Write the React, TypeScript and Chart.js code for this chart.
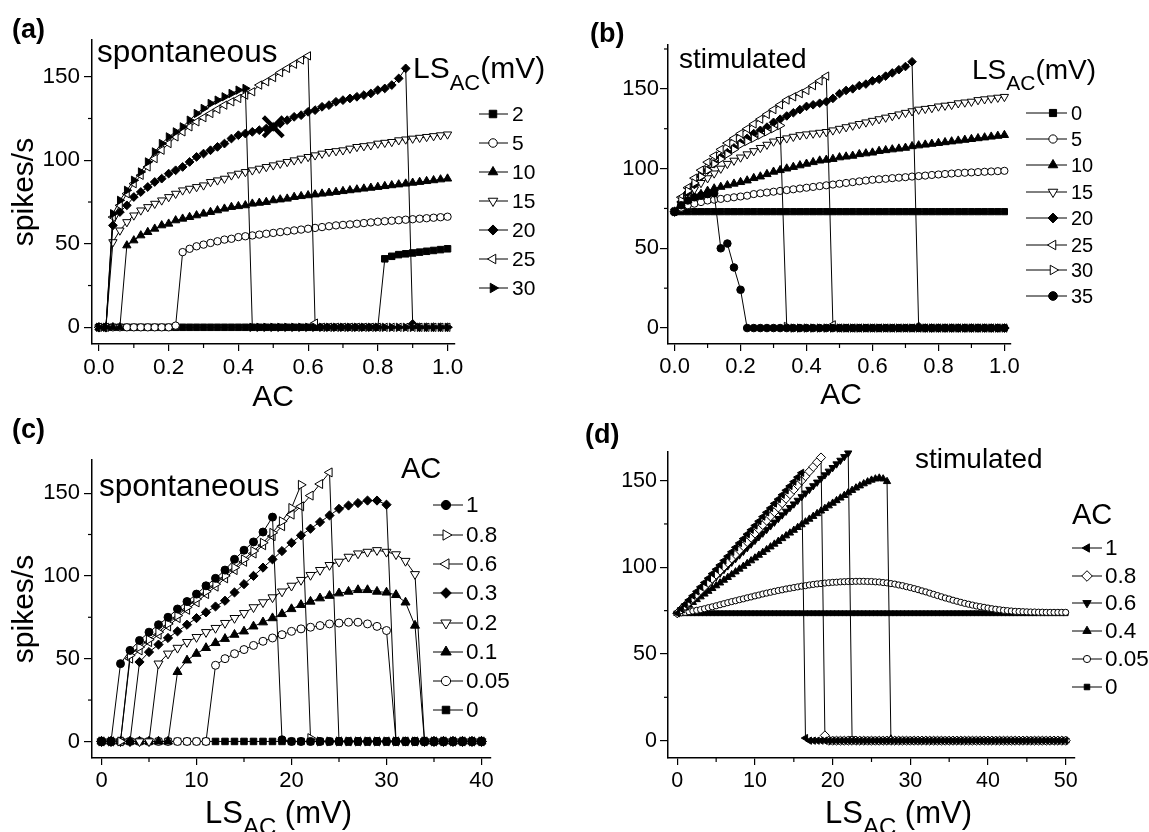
import React, { useEffect, useRef } from 'react';
import { Chart, registerables } from 'chart.js';
Chart.register(...registerables);

const FONT = "'Liberation Sans', Arial, Helvetica, sans-serif";

// ---------------- Panel (a): spontaneous, x = AC ----------------
const acValues = [
  0, 0.02, 0.04, 0.06, 0.08, 0.1, 0.12, 0.14, 0.16, 0.18,
  0.2, 0.22, 0.24, 0.26, 0.28, 0.3, 0.32, 0.34, 0.36, 0.38,
  0.4, 0.42, 0.44, 0.46, 0.48, 0.5, 0.52, 0.54, 0.56, 0.58,
  0.6, 0.62, 0.64, 0.66, 0.68, 0.7, 0.72, 0.74, 0.76, 0.78,
  0.8, 0.82, 0.84, 0.86, 0.88, 0.9, 0.92, 0.94, 0.96, 0.98,
  1.0,
];
const acTicks = [0, 0.2, 0.4, 0.6, 0.8, 1.0];
const acMinorTicks = [0.1, 0.3, 0.5, 0.7, 0.9];
const rateTicks = [0, 50, 100, 150];
const rateMinorTicksA = [25, 75, 125];
const rateMinorTicksB = [25, 75, 125, 175];

const aLS2 = [
  0, 0, 0, 0, 0, 0, 0, 0, 0, 0,
  0, 0, 0, 0, 0, 0, 0, 0, 0, 0,
  0, 0, 0, 0, 0, 0, 0, 0, 0, 0,
  0, 0, 0, 0, 0, 0, 0, 0, 0, 0,
  0, 41, 42.5, 43.5, 44, 44.5, 45, 45.5, 46, 46.5,
  47,
];
const aLS5 = [
  0, 0, 0, 0, 0, 0, 0, 0, 0, 0,
  0, 1, 45, 47, 48.5, 49.5, 50.5, 51.5, 52.5, 53,
  54, 54.5, 55, 55.5, 56, 56.5, 57, 57.5, 58, 58.5,
  59, 59.5, 60, 60.5, 61, 61.3, 61.6, 62, 62.4, 62.8,
  63.2, 63.5, 63.8, 64.1, 64.4, 64.7, 65, 65.3, 65.6, 65.9,
  66.2,
];
const aLS10 = [
  0, 0, 0, 0, 49, 52, 55, 57, 59, 61,
  62, 64, 65, 66, 67, 68, 69, 70, 71, 72,
  72.5, 73, 74, 74.5, 75, 76, 76.5, 77, 78, 78.5,
  79, 79.5, 80, 80.5, 81, 81.5, 82, 82.5, 83, 83.5,
  84, 84.5, 85, 85.5, 86, 86.5, 87, 87.5, 88, 88.5,
  89,
];
const aLS15 = [
  0, 0, 51, 58, 63, 67, 70, 72, 74, 76,
  78, 80, 82, 83, 84, 85, 87, 88, 89, 91,
  92, 93, 94, 95, 96, 97, 98, 99, 100, 101,
  102, 103, 104, 105, 105.5, 106, 107, 108, 108.5, 109,
  110, 110.5, 111, 112, 112.5, 113, 113.5, 114, 114.5, 115,
  115.5,
];
const aLS20 = [
  0, 0, 61, 69, 73, 78, 81, 84, 87, 89,
  92, 94, 96, 99, 102, 104, 106, 108, 110, 113,
  115, 116, 117, 118, 119, 120, 122, 124, 126, 127,
  129, 130, 132, 133, 135, 136, 137, 138, 139, 140,
  142, 143, 145, 149, 155, 2, 0, 0, 0, 0,
  0,
];
const aLS25 = [
  0, 0, 66, 73, 80, 86, 91, 96, 101, 106,
  110, 114, 117, 120, 123, 125.5, 128, 130.5, 133, 135,
  137, 139, 141, 145, 147, 149.5, 152.5, 155, 157.5, 160,
  162.5, 2.5, 0, 0, 0, 0, 0, 0, 0, 0,
  0, 0, 0, 0, 0, 0, 0, 0, 0, 0,
  0,
];
const aLS30 = [
  0, 0, 68, 76, 82, 88, 93, 99, 105, 110,
  114, 117, 120, 124, 128, 131, 134, 136, 138, 140,
  142, 143, 0, 0, 0, 0, 0, 0, 0, 0,
  0, 0, 0, 0, 0, 0, 0, 0, 0, 0,
  0, 0, 0, 0, 0, 0, 0, 0, 0, 0,
  0,
];
const aCrossX = [0.5];
const aCrossY = [120];

// ---------------- Panel (b): stimulated, x = AC ----------------
const bLS0 = [
  73, 73, 73, 73, 73, 73, 73, 73, 73, 73,
  73, 73, 73, 73, 73, 73, 73, 73, 73, 73,
  73, 73, 73, 73, 73, 73, 73, 73, 73, 73,
  73, 73, 73, 73, 73, 73, 73, 73, 73, 73,
  73, 73, 73, 73, 73, 73, 73, 73, 73, 73,
  73,
];
const bLS5 = [
  73, 75.5, 77, 78, 79, 80, 80.5, 81, 81.5, 82,
  82.5, 83, 84, 84.5, 85, 85.5, 86, 86.5, 87, 87.5,
  88, 88.5, 89, 89.5, 90, 90.5, 91, 91.5, 92, 92.5,
  93, 93.3, 93.6, 94, 94.3, 94.6, 95, 95.3, 95.6, 96,
  96.3, 96.6, 96.9, 97.2, 97.4, 97.6, 97.8, 98, 98.2, 98.4,
  98.6,
];
const bLS10 = [
  73, 77, 80, 82, 84, 86, 87.5, 88.5, 89.5, 90.5,
  91.5, 92.5, 94, 95, 96.5, 98, 99, 100, 101, 102,
  103, 104, 105, 105.5, 106, 107, 107.5, 108, 109, 109.5,
  110, 111, 111.5, 112, 112.5, 113, 114, 114.5, 115, 115.5,
  116, 116.5, 117, 117.5, 118, 118.5, 119, 119.5, 120, 120.5,
  121,
];
const bLS15 = [
  73, 78, 83, 87, 91, 94, 97, 100, 103, 105,
  107, 109, 111, 113, 115, 117, 118, 119, 120, 121,
  121.5, 122, 122.5, 123, 124, 125, 126, 127, 128, 129,
  130, 131, 132, 133, 134, 135, 136, 137, 137.5, 138,
  139, 139.5, 140, 141, 141.5, 142, 143, 143.5, 144, 144.5,
  145,
];
const bLS20 = [
  73, 79, 85, 90, 95, 99, 103, 107, 110, 113,
  116, 119, 122, 124, 126, 129, 131, 133, 135, 137,
  139, 140, 141, 142, 144, 147, 149, 150, 152, 153,
  155, 156, 158, 160, 162, 164, 167, 1, 0, 0,
  0, 0, 0, 0, 0, 0, 0, 0, 0, 0,
  0,
];
const bLS25 = [
  73, 82, 88, 94, 99, 104, 108, 112, 116, 119,
  122, 125, 128, 131, 134, 137, 140, 143, 145, 147,
  149, 152, 155, 158, 2, 0, 0, 0, 0, 0,
  0, 0, 0, 0, 0, 0, 0, 0, 0, 0,
  0, 0, 0, 0, 0, 0, 0, 0, 0, 0,
  0,
];
const bLS30 = [
  73, 80, 86, 91, 95, 99, 103, 106, 109, 112,
  115, 117, 119, 121, 123, 125, 127, 1, 0, 0,
  0, 0, 0, 0, 0, 0, 0, 0, 0, 0,
  0, 0, 0, 0, 0, 0, 0, 0, 0, 0,
  0, 0, 0, 0, 0, 0, 0, 0, 0, 0,
  0,
];
const bLS35 = [
  73, 77, 80, 82, 83, 84, 84.5, 50, 53, 38,
  24, 0, 0, 0, 0, 0, 0, 0, 0, 0,
  0, 0, 0, 0, 0, 0, 0, 0, 0, 0,
  0, 0, 0, 0, 0, 0, 0, 0, 0, 0,
  0, 0, 0, 0, 0, 0, 0, 0, 0, 0,
  0,
];

// ---------------- Panel (c): spontaneous, x = LS_AC ----------------
const lsC = [
  0, 1, 2, 3, 4, 5, 6, 7, 8, 9,
  10, 11, 12, 13, 14, 15, 16, 17, 18, 19,
  20, 21, 22, 23, 24, 25, 26, 27, 28, 29,
  30, 31, 32, 33, 34, 35, 36, 37, 38, 39,
  40,
];
const lsTicksC = [0, 10, 20, 30, 40];
const lsMinorC = [5, 15, 25, 35];
const cAC1 = [
  0, 0, 47, 55, 61, 66, 70.5, 75, 80, 84.5,
  89, 94, 98.5, 103.5, 110, 115.5, 120.5, 126.5, 135.5, 1,
  0, 0, 0, 0, 0, 0, 0, 0, 0, 0,
  0, 0, 0, 0, 0, 0, 0, 0, 0, 0,
  0,
];
const cAC08 = [
  0, 0, 0, 52, 57, 61.5, 66, 71, 76, 81,
  86, 90.5, 95, 100, 105, 110, 115, 120, 126, 133,
  141, 155, 2, 0, 0, 0, 0, 0, 0, 0,
  0, 0, 0, 0, 0, 0, 0, 0, 0, 0,
  0,
];
const cAC06 = [
  0, 0, 0, 50, 55, 60, 64.5, 69.5, 74.5, 79.5,
  84, 89, 93.5, 98.5, 103.5, 108.5, 113.5, 118.5, 124, 130,
  137, 142, 148.5, 155.5, 162.5, 0, 0, 0, 0, 0,
  0, 0, 0, 0, 0, 0, 0, 0, 0, 0,
  0,
];
const cAC03 = [
  0, 0, 0, 0, 48, 54, 58.5, 62.5, 66.5, 70.5,
  74.5, 78, 81.5, 85, 90, 95, 100, 105, 110, 115,
  120, 124.5, 128.5, 132.5, 136.5, 140.5, 142.5, 144, 145.5, 145.5,
  143, 0, 0, 0, 0, 0, 0, 0, 0, 0,
  0,
];
const cAC02 = [
  0, 0, 0, 0, 0, 0, 47, 53, 56.5, 60,
  63, 66, 68.5, 71.5, 74.5, 77.5, 81, 84, 87, 90.5,
  94, 97.5, 100.5, 103.5, 106.5, 108.5, 111.5, 113.5, 114.5, 115.5,
  114.5, 113, 109, 101, 0, 0, 0, 0, 0, 0,
  0,
];
const cAC01 = [
  0, 0, 0, 0, 0, 0, 0, 0, 42, 49,
  53, 56.5, 59.5, 62, 64.5, 66.5, 69.5, 72, 74.5, 77,
  80, 82.5, 84.5, 86.5, 88, 89.5, 90.5, 91.5, 91.5, 90.5,
  90, 88.5, 84, 70, 0, 0, 0, 0, 0, 0,
  0,
];
const cAC005 = [
  0, 0, 0, 0, 0, 0, 0, 0, 0, 0,
  0, 0, 46, 50, 53, 55.5, 58, 60.5, 62.5, 64.5,
  66.5, 68, 69, 70, 71, 71.5, 72, 72, 71, 69.5,
  67, 0, 0, 0, 0, 0, 0, 0, 0, 0,
  0,
];
const cAC0 = [
  0, 0, 0, 0, 0, 0, 0, 0, 0, 0,
  0, 0, 0, 0, 0, 0, 0, 0, 0, 0,
  0, 0, 0, 0, 0, 0, 0, 0, 0, 0,
  0, 0, 0, 0, 0, 0, 0, 0, 0, 0,
  0,
];

// ---------------- Panel (d): stimulated, x = LS_AC ----------------
const lsD = [
  0, 0.5, 1, 1.5, 2, 2.5, 3, 3.5, 4, 4.5,
  5, 5.5, 6, 6.5, 7, 7.5, 8, 8.5, 9, 9.5,
  10, 10.5, 11, 11.5, 12, 12.5, 13, 13.5, 14, 14.5,
  15, 15.5, 16, 16.5, 17, 17.5, 18, 18.5, 19, 19.5,
  20, 20.5, 21, 21.5, 22, 22.5, 23, 23.5, 24, 24.5,
  25, 25.5, 26, 26.5, 27, 27.5, 28, 28.5, 29, 29.5,
  30, 30.5, 31, 31.5, 32, 32.5, 33, 33.5, 34, 34.5,
  35, 35.5, 36, 36.5, 37, 37.5, 38, 38.5, 39, 39.5,
  40, 40.5, 41, 41.5, 42, 42.5, 43, 43.5, 44, 44.5,
  45, 45.5, 46, 46.5, 47, 47.5, 48, 48.5, 49, 49.5,
  50,
];
const lsTicksD = [0, 10, 20, 30, 40, 50];
const lsMinorD = [5, 15, 25, 35, 45];
const dAC1 = [
  73.5, 76, 78.5, 81.1, 83.6, 86.1, 88.7, 91.2, 93.7, 96.3,
  98.8, 101.3, 103.9, 106.4, 108.9, 111.5, 114, 116.5, 119.1, 121.6,
  124.1, 126.6, 129.2, 131.7, 134.2, 136.8, 139.3, 141.8, 144.4, 146.9,
  149.4, 152, 154.5, 1.5, 0, 0, 0, 0, 0, 0,
  0, 0, 0, 0, 0, 0, 0, 0, 0, 0,
  0, 0, 0, 0, 0, 0, 0, 0, 0, 0,
  0, 0, 0, 0, 0, 0, 0, 0, 0, 0,
  0, 0, 0, 0, 0, 0, 0, 0, 0, 0,
  0, 0, 0, 0, 0, 0, 0, 0, 0, 0,
  0, 0, 0, 0, 0, 0, 0, 0, 0, 0,
  0,
];
const dAC08 = [
  73.5, 75.7, 77.8, 80.0, 82.2, 84.4, 86.7, 88.9, 91.2, 93.5,
  95.8, 98.1, 100.4, 102.7, 105.1, 107.4, 109.8, 112.2, 114.6, 117.1,
  119.5, 122.0, 124.4, 126.9, 129.4, 131.9, 134.5, 137.0, 139.6, 142.2,
  144.8, 147.4, 150.0, 152.6, 155.3, 157.9, 160.6, 163.3, 3, 0,
  0, 0, 0, 0, 0, 0, 0, 0, 0, 0,
  0, 0, 0, 0, 0, 0, 0, 0, 0, 0,
  0, 0, 0, 0, 0, 0, 0, 0, 0, 0,
  0, 0, 0, 0, 0, 0, 0, 0, 0, 0,
  0, 0, 0, 0, 0, 0, 0, 0, 0, 0,
  0, 0, 0, 0, 0, 0, 0, 0, 0, 0,
  0,
];
const dAC06 = [
  73.5, 75.6, 77.7, 79.8, 81.9, 84, 86.1, 88.2, 90.3, 92.4,
  94.5, 96.6, 98.7, 100.8, 102.9, 105, 107.1, 109.2, 111.3, 113.4,
  115.5, 117.6, 119.7, 121.8, 123.9, 126, 128.1, 130.2, 132.3, 134.4,
  136.5, 138.6, 140.7, 142.8, 144.9, 147, 149.1, 151.2, 153.3, 155.4,
  157.5, 159.6, 161.7, 163.8, 165.9, 1, 0, 0, 0, 0,
  0, 0, 0, 0, 0, 0, 0, 0, 0, 0,
  0, 0, 0, 0, 0, 0, 0, 0, 0, 0,
  0, 0, 0, 0, 0, 0, 0, 0, 0, 0,
  0, 0, 0, 0, 0, 0, 0, 0, 0, 0,
  0, 0, 0, 0, 0, 0, 0, 0, 0, 0,
  0,
];
const dAC04 = [
  73.5, 75, 76.6, 78.2, 79.8, 81.4, 83, 84.6, 86.2, 87.8,
  89.4, 91, 92.6, 94.2, 95.8, 97.4, 99, 100.6, 102.2, 103.8,
  105.4, 107, 108.6, 110.2, 111.8, 113.4, 115, 116.6, 118.2, 119.8,
  121.4, 123, 124.6, 126.2, 127.8, 129.4, 131, 132.5, 134, 135.5,
  137, 138.5, 140, 141.5, 143, 144.4, 145.8, 147, 148.2, 149.3,
  150.3, 151, 151.5, 151, 149.5, 1, 0, 0, 0, 0,
  0, 0, 0, 0, 0, 0, 0, 0, 0, 0,
  0, 0, 0, 0, 0, 0, 0, 0, 0, 0,
  0, 0, 0, 0, 0, 0, 0, 0, 0, 0,
  0, 0, 0, 0, 0, 0, 0, 0, 0, 0,
  0,
];
const dAC005 = [
  73.5, 73.7, 74, 74.4, 74.8, 75.2, 75.6, 76.1, 76.7, 77.2,
  77.8, 78.4, 79, 79.6, 80.2, 80.7, 81.3, 81.8, 82.4, 82.9,
  83.5, 84, 84.6, 85.1, 85.6, 86.1, 86.6, 87, 87.5, 87.9,
  88.3, 88.7, 89.1, 89.4, 89.8, 90.1, 90.4, 90.6, 90.9, 91.1,
  91.3, 91.4, 91.6, 91.7, 91.8, 91.8, 91.9, 91.9, 91.9, 91.8,
  91.8, 91.6, 91.5, 91.2, 91, 90.6, 90.3, 89.8, 89.4, 88.8,
  88.3, 87.7, 87.1, 86.4, 85.8, 85.1, 84.4, 83.7, 83, 82.3,
  81.7, 81, 80.4, 79.8, 79.2, 78.7, 78.2, 77.7, 77.3, 76.9,
  76.5, 76.1, 75.8, 75.5, 75.2, 75, 74.8, 74.6, 74.5, 74.4,
  74.3, 74.2, 74.2, 74.1, 74.1, 74, 74, 74, 74, 74,
  74,
];
const dAC0 = [
  73.5, 73.5, 73.5, 73.5, 73.5, 73.5, 73.5, 73.5, 73.5, 73.5,
  73.5, 73.5, 73.5, 73.5, 73.5, 73.5, 73.5, 73.5, 73.5, 73.5,
  73.5, 73.5, 73.5, 73.5, 73.5, 73.5, 73.5, 73.5, 73.5, 73.5,
  73.5, 73.5, 73.5, 73.5, 73.5, 73.5, 73.5, 73.5, 73.5, 73.5,
  73.5, 73.5, 73.5, 73.5, 73.5, 73.5, 73.5, 73.5, 73.5, 73.5,
  73.5, 73.5, 73.5, 73.5, 73.5, 73.5, 73.5, 73.5, 73.5, 73.5,
  73.5, 73.5, 73.5, 73.5, 73.5, 73.5, 73.5, 73.5, 73.5, 73.5,
  73.5, 73.5, 73.5, 73.5, 73.5, 73.5, 73.5, 73.5, 73.5, 73.5,
  73.5, 73.5, 73.5, 73.5, 73.5, 73.5, 73.5, 73.5, 73.5, 73.5,
  73.5, 73.5, 73.5, 73.5, 73.5, 73.5, 73.5, 73.5, 73.5, 73.5,
  73.5,
];

// ---------------- types & helpers ----------------
type Marker = { style: string; rot: number; filled: boolean; r: number };
type Series = { label: string; values: number[]; m: Marker };
type Part = { t: string; size: number; bold?: boolean; dy?: number };
type TextItem = { x: number; y: number; parts: Part[]; align?: string; rotate?: boolean };
type Panel = {
  id: string;
  box: { left: number; top: number; w: number; h: number };
  area: { l: number; t: number; r: number; b: number };
  xMin: number; xMax: number; yMin: number; yMax: number;
  xTicks: number[]; yTicks: number[]; xMinor: number[]; yMinor: number[];
  xDec: number; tickSize: number; yPad: number;
  xs: number[]; series: Series[]; laterOnTop: boolean;
  texts: TextItem[];
  legend: { rows: number[]; x1: number; x2: number; mx: number; lx: number; size: number };
  cross?: boolean;
};

const M = (style: string, rot: number, filled: boolean, r: number): Marker => ({ style, rot, filled, r });

function drawMarker(ctx: CanvasRenderingContext2D, m: Marker, x: number, y: number, r: number) {
  const rad = (m.rot * Math.PI) / 180;
  ctx.beginPath();
  if (m.style === 'circle') ctx.arc(x, y, r, 0, Math.PI * 2);
  else if (m.style === 'rect') {
    const s = Math.SQRT1_2 * r;
    ctx.rect(x - s, y - s, 2 * s, 2 * s);
  } else if (m.style === 'rectRot') {
    ctx.moveTo(x - r, y); ctx.lineTo(x, y - r); ctx.lineTo(x + r, y); ctx.lineTo(x, y + r); ctx.closePath();
  } else {
    let a = rad;
    ctx.moveTo(x + Math.sin(a) * r, y - Math.cos(a) * r);
    a += (2 * Math.PI) / 3;
    ctx.lineTo(x + Math.sin(a) * r, y - Math.cos(a) * r);
    a += (2 * Math.PI) / 3;
    ctx.lineTo(x + Math.sin(a) * r, y - Math.cos(a) * r);
    ctx.closePath();
  }
  ctx.fillStyle = m.filled ? '#000' : '#fff';
  ctx.fill();
  ctx.lineWidth = 1;
  ctx.strokeStyle = '#000';
  ctx.stroke();
}

function drawText(ctx: CanvasRenderingContext2D, t: TextItem, ox: number, oy: number) {
  ctx.save();
  ctx.fillStyle = '#000';
  ctx.textBaseline = 'alphabetic';
  ctx.textAlign = 'left';
  const widths = t.parts.map((p) => {
    ctx.font = `${p.bold ? 'bold ' : ''}${p.size}px ${FONT}`;
    return ctx.measureText(p.t).width;
  });
  const total = widths.reduce((a, b) => a + b, 0);
  let x0 = t.align === 'center' ? -total / 2 : 0;
  ctx.translate(t.x - ox, t.y - oy);
  if (t.rotate) ctx.rotate(-Math.PI / 2);
  t.parts.forEach((p, i) => {
    ctx.font = `${p.bold ? 'bold ' : ''}${p.size}px ${FONT}`;
    ctx.fillText(p.t, x0, p.dy || 0);
    x0 += widths[i];
  });
  ctx.restore();
}

const lsTitle = (x: number, y: number): TextItem => ({
  x, y, parts: [{ t: 'LS', size: 31 }, { t: 'AC', size: 24, dy: 12 }, { t: ' (mV)', size: 31 }],
});

// ---------------- panel definitions ----------------
const panels: Panel[] = [
  {
    id: 'a',
    box: { left: 0, top: 0, w: 575, h: 415 },
    area: { l: 92, t: 40, r: 454.5, b: 344 },
    xMin: -0.02, xMax: 1.02, yMin: -10, yMax: 172,
    xTicks: acTicks, yTicks: rateTicks, xMinor: acMinorTicks, yMinor: rateMinorTicksA,
    xDec: 1, tickSize: 22.5, yPad: 4,
    xs: acValues, laterOnTop: true, cross: true,
    series: [
      { label: '2', values: aLS2, m: M('rect', 0, true, 4.6) },
      { label: '5', values: aLS5, m: M('circle', 0, false, 3.7) },
      { label: '10', values: aLS10, m: M('triangle', 0, true, 4.8) },
      { label: '15', values: aLS15, m: M('triangle', 180, false, 4.8) },
      { label: '20', values: aLS20, m: M('rectRot', 0, true, 4.4) },
      { label: '25', values: aLS25, m: M('triangle', -90, false, 4.8) },
      { label: '30', values: aLS30, m: M('triangle', 90, true, 4.8) },
    ],
    texts: [
      { x: 12, y: 38, parts: [{ t: '(a)', size: 27, bold: true }] },
      { x: 97, y: 62, parts: [{ t: 'spontaneous', size: 31.5 }] },
      { x: 33, y: 192, rotate: true, align: 'center', parts: [{ t: 'spikes/s', size: 30 }] },
      { x: 273, y: 406, align: 'center', parts: [{ t: 'AC', size: 30 }] },
      { x: 413, y: 78, parts: [{ t: 'LS', size: 30 }, { t: 'AC', size: 22, dy: 12 }, { t: '(mV)', size: 30 }] },
    ],
    legend: { rows: [114, 143, 172, 201, 230, 259, 288], x1: 479, x2: 508, mx: 493, lx: 512, size: 21 },
  },
  {
    id: 'b',
    box: { left: 575, top: 0, w: 574, h: 415 },
    area: { l: 668, t: 45, r: 1011, b: 344 },
    xMin: -0.02, xMax: 1.02, yMin: -10, yMax: 177.5,
    xTicks: acTicks, yTicks: rateTicks, xMinor: acMinorTicks, yMinor: rateMinorTicksB,
    xDec: 1, tickSize: 22, yPad: 1,
    xs: acValues, laterOnTop: true,
    series: [
      { label: '0', values: bLS0, m: M('rect', 0, true, 4.4) },
      { label: '5', values: bLS5, m: M('circle', 0, false, 3.6) },
      { label: '10', values: bLS10, m: M('triangle', 0, true, 4.8) },
      { label: '15', values: bLS15, m: M('triangle', 180, false, 4.8) },
      { label: '20', values: bLS20, m: M('rectRot', 0, true, 4.3) },
      { label: '25', values: bLS25, m: M('triangle', -90, false, 4.8) },
      { label: '30', values: bLS30, m: M('triangle', 90, false, 4.8) },
      { label: '35', values: bLS35, m: M('circle', 0, true, 3.8) },
    ],
    texts: [
      { x: 590, y: 42, parts: [{ t: '(b)', size: 27, bold: true }] },
      { x: 679, y: 68, parts: [{ t: 'stimulated', size: 28 }] },
      { x: 841, y: 404, align: 'center', parts: [{ t: 'AC', size: 30 }] },
      { x: 972, y: 79, parts: [{ t: 'LS', size: 28 }, { t: 'AC', size: 21, dy: 11 }, { t: '(mV)', size: 28 }] },
    ],
    legend: { rows: [113, 139, 165, 192, 218, 245, 270, 296], x1: 1026, x2: 1067, mx: 1053, lx: 1071, size: 20 },
  },
  {
    id: 'c',
    box: { left: 0, top: 415, w: 575, h: 417 },
    area: { l: 92, t: 460, r: 491, b: 758 },
    xMin: -1, xMax: 41, yMin: -10, yMax: 170,
    xTicks: lsTicksC, yTicks: rateTicks, xMinor: lsMinorC, yMinor: rateMinorTicksA,
    xDec: 0, tickSize: 22, yPad: 4,
    xs: lsC, laterOnTop: false,
    series: [
      { label: '1', values: cAC1, m: M('circle', 0, true, 4) },
      { label: '0.8', values: cAC08, m: M('triangle', 90, false, 5.2) },
      { label: '0.6', values: cAC06, m: M('triangle', -90, false, 5.2) },
      { label: '0.3', values: cAC03, m: M('rectRot', 0, true, 4.6) },
      { label: '0.2', values: cAC02, m: M('triangle', 180, false, 5.2) },
      { label: '0.1', values: cAC01, m: M('triangle', 0, true, 5.2) },
      { label: '0.05', values: cAC005, m: M('circle', 0, false, 4) },
      { label: '0', values: cAC0, m: M('rect', 0, true, 4.6) },
    ],
    texts: [
      { x: 12, y: 438, parts: [{ t: '(c)', size: 27, bold: true }] },
      { x: 99, y: 496, parts: [{ t: 'spontaneous', size: 31.5 }] },
      { x: 33, y: 609, rotate: true, align: 'center', parts: [{ t: 'spikes/s', size: 30 }] },
      lsTitle(205, 823),
      { x: 401, y: 478, parts: [{ t: 'AC', size: 29 }] },
    ],
    legend: { rows: [505, 535, 564, 593, 623, 652, 681, 710], x1: 433, x2: 463, mx: 446, lx: 466, size: 22.5 },
  },
  {
    id: 'd',
    box: { left: 575, top: 415, w: 574, h: 417 },
    area: { l: 668, t: 452, r: 1075, b: 758 },
    xMin: -1.2, xMax: 51.2, yMin: -10, yMax: 166.5,
    xTicks: lsTicksD, yTicks: rateTicks, xMinor: lsMinorD, yMinor: rateMinorTicksA,
    xDec: 0, tickSize: 21.5, yPad: 3,
    xs: lsD, laterOnTop: false,
    series: [
      { label: '1', values: dAC1, m: M('triangle', -90, true, 4.2) },
      { label: '0.8', values: dAC08, m: M('rectRot', 0, false, 4.6) },
      { label: '0.6', values: dAC06, m: M('triangle', 180, true, 4.2) },
      { label: '0.4', values: dAC04, m: M('triangle', 0, true, 4.2) },
      { label: '0.05', values: dAC005, m: M('circle', 0, false, 3.1) },
      { label: '0', values: dAC0, m: M('rect', 0, true, 3.4) },
    ],
    texts: [
      { x: 585, y: 443, parts: [{ t: '(d)', size: 27, bold: true }] },
      { x: 915, y: 468, parts: [{ t: 'stimulated', size: 28 }] },
      lsTitle(825, 823),
      { x: 1072, y: 524, parts: [{ t: 'AC', size: 29 }] },
    ],
    legend: { rows: [548, 576, 603, 631, 659, 687], x1: 1072, x2: 1102, mx: 1087, lx: 1105, size: 22.5 },
  },
];

function buildConfig(p: Panel): any {
  const ox = p.box.left;
  const oy = p.box.top;
  const datasets: any[] = p.series.map((s, i) => ({
    label: s.label,
    data: p.xs.map((x, j) => ({ x, y: s.values[j] })),
    showLine: true,
    borderColor: '#000',
    borderWidth: 1,
    tension: 0,
    pointStyle: s.m.style,
    pointRotation: s.m.rot,
    pointRadius: s.m.r,
    pointHoverRadius: s.m.r,
    pointBackgroundColor: s.m.filled ? '#000' : '#fff',
    pointBorderColor: '#000',
    pointBorderWidth: 1,
    order: p.laterOnTop ? -i : i,
    clip: false,
  }));
  if (p.cross) {
    datasets.push({
      label: 'X',
      data: aCrossX.map((x, j) => ({ x, y: aCrossY[j] })),
      showLine: false,
      pointStyle: 'crossRot',
      pointRadius: 14,
      pointHoverRadius: 14,
      pointBorderColor: '#000',
      pointBorderWidth: 4.5,
      order: -1000,
      clip: false,
    });
  }
  const tickFont = { family: FONT, size: p.tickSize };
  const deco = {
    id: 'deco_' + p.id,
    afterDraw(chart: any) {
      const ctx: CanvasRenderingContext2D = chart.ctx;
      const xs = chart.scales.x;
      const ys = chart.scales.y;
      const ca = chart.chartArea;
      ctx.save();
      ctx.strokeStyle = '#000';
      ctx.lineWidth = 1.2;
      for (const v of p.xMinor) {
        const px = xs.getPixelForValue(v);
        ctx.beginPath(); ctx.moveTo(px, ca.bottom); ctx.lineTo(px, ca.bottom + 4); ctx.stroke();
      }
      for (const v of p.yMinor) {
        if (v > p.yMax) continue;
        const py = ys.getPixelForValue(v);
        ctx.beginPath(); ctx.moveTo(ca.left, py); ctx.lineTo(ca.left - 4, py); ctx.stroke();
      }
      for (const t of p.texts) drawText(ctx, t, ox, oy);
      const L = p.legend;
      p.series.forEach((s, i) => {
        const y = L.rows[i] - oy;
        ctx.beginPath();
        ctx.strokeStyle = '#000';
        ctx.lineWidth = 1;
        ctx.moveTo(L.x1 - ox, y); ctx.lineTo(L.x2 - ox, y); ctx.stroke();
        drawMarker(ctx, s.m, L.mx - ox, y, s.m.r * 1.15);
        ctx.fillStyle = '#000';
        ctx.font = `${L.size}px ${FONT}`;
        ctx.textBaseline = 'middle';
        ctx.textAlign = 'left';
        ctx.fillText(s.label, L.lx - ox, y + 1);
      });
      ctx.restore();
    },
  };
  return {
    type: 'scatter',
    data: { datasets },
    plugins: [deco],
    options: {
      animation: false,
      responsive: false,
      devicePixelRatio: 1,
      events: [],
      layout: {
        padding: { left: 0, top: p.area.t - oy, right: ox + p.box.w - p.area.r, bottom: 0 },
      },
      plugins: { legend: { display: false }, tooltip: { enabled: false }, title: { display: false } },
      scales: {
        x: {
          type: 'linear',
          position: 'bottom',
          min: p.xMin,
          max: p.xMax,
          afterFit: (s: any) => { s.height = oy + p.box.h - p.area.b; s.paddingLeft = 0; s.paddingRight = 0; },
          afterBuildTicks: (s: any) => { s.ticks = p.xTicks.map((v) => ({ value: v })); },
          ticks: {
            callback: (v: any) => Number(v).toFixed(p.xDec),
            font: tickFont, color: '#000', padding: 3, maxRotation: 0, minRotation: 0, autoSkip: false,
          },
          grid: { display: true, drawOnChartArea: false, drawTicks: true, tickLength: 7, color: '#000', lineWidth: 1.2 },
          border: { display: true, color: '#000', width: 1.5 },
        },
        y: {
          type: 'linear',
          position: 'left',
          min: p.yMin,
          max: p.yMax,
          afterFit: (s: any) => { s.width = p.area.l - ox; s.paddingTop = 0; s.paddingBottom = 0; },
          afterBuildTicks: (s: any) => { s.ticks = p.yTicks.map((v) => ({ value: v })); },
          ticks: { font: tickFont, color: '#000', padding: p.yPad, autoSkip: false },
          grid: { display: true, drawOnChartArea: false, drawTicks: true, tickLength: 8, color: '#000', lineWidth: 1.2 },
          border: { display: true, color: '#000', width: 1.5 },
        },
      },
    },
  };
}

function PanelChart({ p }: { p: Panel }) {
  const ref = useRef<HTMLCanvasElement | null>(null);
  useEffect(() => {
    const canvas = ref.current;
    if (!canvas) return;
    const chart = new Chart(canvas, buildConfig(p));
    return () => chart.destroy();
  }, [p]);
  return (
    <canvas
      ref={ref}
      width={p.box.w}
      height={p.box.h}
      style={{ position: 'absolute', left: p.box.left, top: p.box.top, width: p.box.w, height: p.box.h }}
    />
  );
}

export default function App() {
  return (
    <div style={{ position: 'absolute', left: 0, top: 0, width: 1149, height: 832, background: '#fff', overflow: 'hidden' }}>
      {panels.map((p) => (
        <PanelChart key={p.id} p={p} />
      ))}
    </div>
  );
}
